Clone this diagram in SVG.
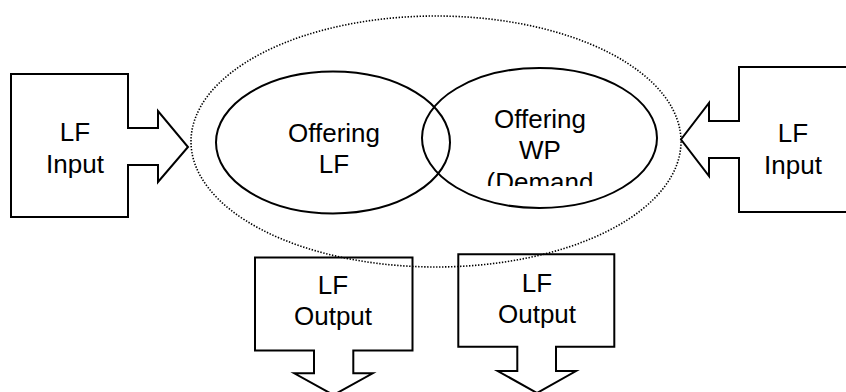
<svg xmlns="http://www.w3.org/2000/svg" width="846" height="392" viewBox="0 0 846 392">
<style>
.shape{fill:#fff;stroke:#000;stroke-width:2;stroke-linejoin:miter}
.oval{fill:none;stroke:#000;stroke-width:2}
.dots{fill:none;stroke:#000;stroke-width:1.6;stroke-dasharray:1.4 1.6}
.t{font-family:"Liberation Sans",Arial,sans-serif;font-size:26px;fill:#000;text-anchor:middle}
</style>
<defs>
<clipPath id="clipWP"><rect x="470" y="95" width="140" height="91"/></clipPath>
</defs>
<rect width="846" height="392" fill="#fff"/>
<g id="connectors">
<g id="input-left">
<path class="shape" d="M11,74 H128 V128 H158 V111 L188,147 L158,182 V165 H128 V217 H11 Z"/>
<text class="t" x="75" y="141">LF</text>
<text class="t" x="75" y="172.5">Input</text>
</g>
<g id="input-right">
<path class="shape" d="M850,67 H739 V121 H709 V103 L681,139.5 L709,176 V158 H739 V212 H850"/>
<text class="t" x="793" y="142">LF</text>
<text class="t" x="793" y="173.5">Input</text>
</g>
<g id="output-left">
<path class="shape" d="M255,257.5 H412.5 V350.5 H353.3 V373.3 H372.7 L333.5,395 L294.3,373.3 H314 V350.5 H255 Z"/>
<text class="t" x="333" y="294">LF</text>
<text class="t" x="333" y="324.5">Output</text>
</g>
<g id="output-right">
<path class="shape" d="M458.3,254.3 H614.3 V346.7 H556 V371 H576 L537,393 L497.7,371 H517.3 V346.7 H458.3 Z"/>
<text class="t" x="537" y="292">LF</text>
<text class="t" x="537" y="322.5">Output</text>
</g>
</g>
<g id="offering-lf">
<ellipse class="oval" cx="333" cy="142.5" rx="117" ry="71"/>
<text class="t" x="334" y="142">Offering</text>
<text class="t" x="334" y="173">LF</text>
</g>
<g id="offering-wp">
<ellipse class="oval" cx="539.5" cy="138" rx="117.5" ry="70"/>
<g clip-path="url(#clipWP)">
<text class="t" x="540" y="127.5">Offering</text>
<text class="t" x="540" y="159">WP</text>
<text class="t" x="540" y="190.5">(Demand</text>
</g>
</g>
<g id="market">
<ellipse class="dots" cx="436" cy="141.5" rx="245" ry="125.5"/>
</g>
</svg>
